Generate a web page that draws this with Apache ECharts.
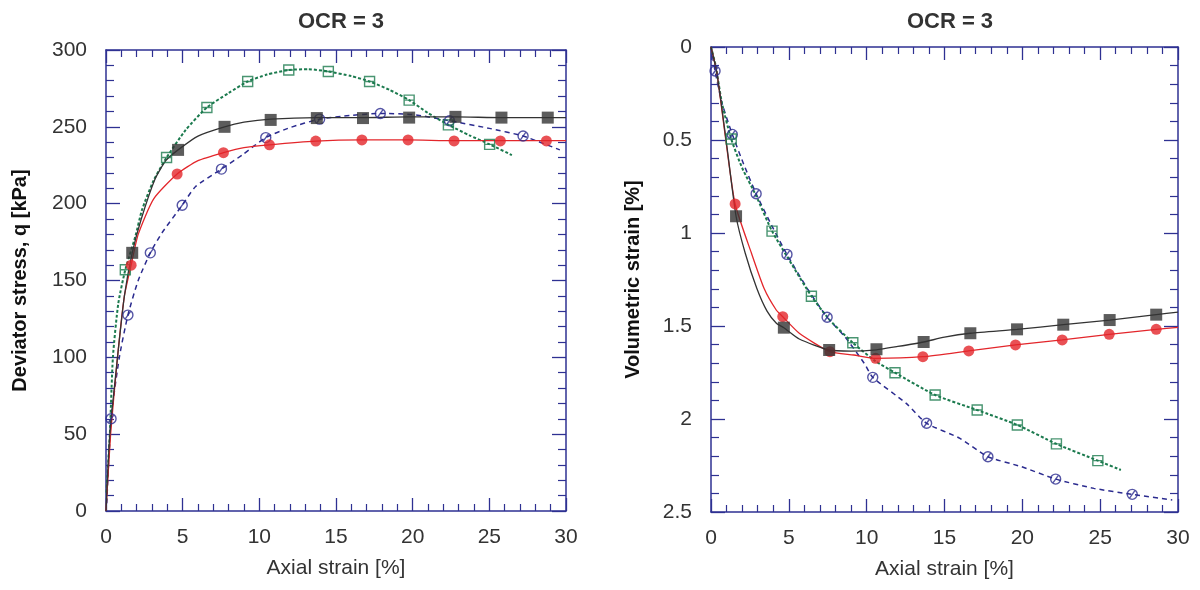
<!DOCTYPE html>
<html><head><meta charset="utf-8">
<script src="https://cdn.jsdelivr.net/npm/echarts@6/dist/echarts.min.js"></script>
<style>html,body{margin:0;padding:0;background:#fff}#c{width:1200px;height:590px}</style>
</head><body><div id="c"></div>
<script>
// ---- Left panel: deviator stress q [kPa] vs axial strain [%] ----
const qBlackLine = [[0,0],[0.25,50],[0.75,100],[1.2,140],[1.71,168],[2.3,190],[3.2,216],[3.9,228],[4.7,235],[6,244],[7.73,250],[9,253],[10.74,255],[13.75,256],[16.76,256],[19.77,256.5],[22.79,256.5],[25.79,256],[30,256]];
const qBlackMarks = [[1.71,168],[4.7,235],[7.73,250],[10.74,254.5],[13.75,255.7],[16.76,255.7],[19.77,256],[22.79,256.5],[25.79,256],[28.81,256]];
const qRedLine = [[0,0],[0.3,50],[0.75,100],[1.2,140],[1.64,160],[2.1,180],[3.1,203],[4.64,219.3],[6,228],[7.66,233.2],[9,236.5],[10.66,238.3],[13.68,240.7],[16.69,241.5],[19.7,241.5],[22.7,241],[30,241]];
const qRedMarks = [[1.64,160],[4.64,219.3],[7.66,233.2],[10.66,238.3],[13.68,240.7],[16.69,241.5],[19.7,241.5],[22.7,240.8],[25.72,240.8],[28.72,240.8]];
const qGreenLine = [[0.03,12],[0.25,50],[0.45,100],[0.8,135],[1.26,157],[1.91,178.5],[2.35,196],[3.1,215],[3.95,230],[5.2,248],[6.58,262.6],[8,272],[9.24,279.5],[10.5,284],[11.92,287],[13.2,287.5],[14.5,286],[16,283],[17.19,279.5],[18.5,274],[19.77,267.4],[21,259],[22.33,251.3],[23.7,244.5],[25.02,238.6],[26.47,231.6]];
const qGreenMarks = [[1.26,157],[3.95,230],[6.58,262.6],[9.24,279.5],[11.92,287],[14.5,286],[17.19,279.5],[19.77,267.4],[22.33,251.3],[25.02,238.6]];
const qBlueLine = [[0.05,5],[0.33,60],[0.87,100],[1.43,127.5],[2.1,150],[2.89,168],[3.65,181],[4.97,199],[5.83,211],[7.53,222.5],[8.87,231.6],[10.42,243],[12,249.5],[13.93,255],[16,257.5],[17.89,258.7],[20,258],[22.4,254],[25,249],[27.2,244],[29.6,235]];
const qBlueMarks = [[0.33,60],[1.43,127.5],[2.89,168],[4.97,199],[7.53,222.5],[10.42,243],[13.93,255],[17.89,258.7],[22.4,254],[27.2,244]];

// ---- Right panel: volumetric strain [%] vs axial strain [%] ----
const vBlackLine = [[0,0],[0.38,0.14],[0.97,0.5],[1.61,0.91],[2.2,1.109],[2.94,1.297],[3.6,1.42],[4.2,1.485],[4.68,1.509],[5.67,1.57],[7.59,1.629],[9,1.635],[10.63,1.628],[12,1.61],[13.66,1.586],[15,1.56],[16.66,1.539],[19.66,1.518],[22.63,1.493],[25.61,1.468],[28.6,1.439],[30,1.425]];
const vBlackMarks = [[1.61,0.91],[4.68,1.509],[7.59,1.629],[10.63,1.625],[13.66,1.586],[16.66,1.539],[19.66,1.518],[22.63,1.493],[25.61,1.468],[28.6,1.439]];
const vRedLine = [[0,0],[0.38,0.14],[0.95,0.5],[1.55,0.844],[2.6,1.109],[3.42,1.3],[4.19,1.414],[4.61,1.45],[5.67,1.539],[7.64,1.638],[9.17,1.656],[10.58,1.674],[13.61,1.665],[16.56,1.634],[19.56,1.602],[22.56,1.575],[25.58,1.545],[28.6,1.518],[30,1.507]];
const vRedMarks = [[1.55,0.844],[4.61,1.45],[7.64,1.638],[10.58,1.674],[13.61,1.665],[16.56,1.634],[19.56,1.602],[22.56,1.575],[25.58,1.545],[28.6,1.518]];
const vGreenLine = [[0,0],[0.3,0.1],[0.7,0.3],[1.3,0.495],[2.0,0.65],[2.9,0.8],[3.92,0.99],[5.2,1.17],[6.45,1.34],[7.63,1.468],[9.11,1.59],[10.58,1.69],[11.82,1.751],[14.4,1.871],[17.1,1.952],[19.68,2.032],[22.19,2.134],[24.85,2.224],[26.33,2.274]];
const vGreenMarks = [[1.3,0.495],[3.92,0.99],[6.45,1.34],[9.11,1.59],[11.82,1.751],[14.4,1.871],[17.1,1.952],[19.68,2.032],[22.19,2.134],[24.85,2.224]];
const vBlueLine = [[0,0],[0.26,0.129],[0.7,0.3],[1.37,0.47],[2.1,0.63],[2.9,0.789],[3.9,0.96],[4.88,1.115],[6.2,1.3],[7.46,1.453],[8.62,1.56],[9.84,1.7],[10.39,1.776],[12.54,1.916],[13.85,2.023],[15.99,2.104],[17.79,2.203],[19.93,2.256],[22.14,2.323],[24.6,2.373],[27.06,2.405],[29.63,2.435]];
const vBlueMarks = [[0.26,0.129],[1.37,0.47],[2.9,0.789],[4.88,1.115],[7.46,1.453],[10.39,1.776],[13.85,2.023],[17.79,2.203],[22.14,2.323],[27.06,2.405]];

const titleText = 'OCR = 3';
const xName = 'Axial strain [%]';
const yNameLeft = 'Deviator stress, q [kPa]';
const yNameRight = 'Volumetric strain [%]';

const AX = '#2e3192';
const C_BLACK = '#333333', C_RED = '#e3262b', C_GREEN = '#1b7a4e', C_BLUE = '#2b2b8f';
const FONT = 'Liberation Sans, Arial, sans-serif';
const SQ_SYM = 'path://M0,0H10V10H0ZM0,5H10';
const CI_SYM = 'path://M10,5A5,5,0,1,1,0,5A5,5,0,1,1,10,5ZM2.5,8.5L7.5,1.5';

function mkX(gi, pos, label) {
  return {
    type: 'value', gridIndex: gi, position: pos, min: 0, max: 30, interval: 5,
    name: label ? xName : '', nameLocation: 'middle', nameGap: 47,
    nameTextStyle: {fontFamily: FONT, fontSize: 21, color: '#333'},
    axisLine: {show: true, onZero: false, lineStyle: {color: AX, width: 1.5}},
    axisTick: {show: true, inside: true, length: 13, lineStyle: {color: AX, width: 1.3}},
    minorTick: {show: true, splitNumber: 5, length: 7, lineStyle: {color: AX, width: 1.2}},
    axisLabel: {show: label, margin: 16, fontFamily: FONT, fontSize: 21, color: '#333'},
    splitLine: {show: false}
  };
}
function mkY(gi, pos, label, opts) {
  return Object.assign({
    type: 'value', gridIndex: gi, position: pos,
    nameLocation: 'middle', nameRotate: 90,
    nameTextStyle: {fontFamily: FONT, fontSize: 20, fontWeight: 'bold', color: '#111'},
    axisLine: {show: true, onZero: false, lineStyle: {color: AX, width: 1.5}},
    axisTick: {show: true, inside: true, length: 14, lineStyle: {color: AX, width: 1.3}},
    minorTick: {show: true, splitNumber: 5, length: 8, lineStyle: {color: AX, width: 1.2}},
    axisLabel: {show: label, margin: 19, fontFamily: FONT, fontSize: 21, color: '#333'},
    splitLine: {show: false}
  }, opts);
}
function line(data, color, xi, type, width) {
  return {type: 'line', data: data, xAxisIndex: xi, yAxisIndex: xi, showSymbol: false, smooth: 0.2,
    lineStyle: {color: color, width: width, type: type}, z: 2, animation: false, silent: true};
}
function marks(data, color, xi, sym, size, filled) {
  return {type: 'scatter', data: data, xAxisIndex: xi, yAxisIndex: xi, symbol: sym, symbolSize: size,
    symbolKeepAspect: true,
    itemStyle: filled ? {color: color} : {color: 'rgba(0,0,0,0)', borderColor: color, borderWidth: 1.4},
    z: filled ? 4 : 3, animation: false, silent: true};
}

const chart = echarts.init(document.getElementById('c'), null, {renderer: 'canvas'});
chart.setOption({
  backgroundColor: '#fff',
  animation: false,
  title: [
    {text: titleText, left: 336, top: 6, textAlign: 'center', textStyle: {fontFamily: FONT, fontSize: 22, fontWeight: 'bold', color: '#333'}},
    {text: titleText, left: 945, top: 6, textAlign: 'center', textStyle: {fontFamily: FONT, fontSize: 22, fontWeight: 'bold', color: '#333'}}
  ],
  grid: [
    {left: 106, top: 50, width: 460, height: 461},
    {left: 711, top: 47, width: 467, height: 465}
  ],
  xAxis: [mkX(0, 'bottom', true), mkX(0, 'top', false), mkX(1, 'bottom', true), mkX(1, 'top', false)],
  yAxis: [
    mkY(0, 'left', true, {min: 0, max: 300, interval: 50, name: yNameLeft, nameGap: 76}),
    mkY(0, 'right', false, {min: 0, max: 300, interval: 50}),
    mkY(1, 'left', true, {min: 0, max: 2.5, interval: 0.5, inverse: true, name: yNameRight, nameGap: 68}),
    mkY(1, 'right', false, {min: 0, max: 2.5, interval: 0.5, inverse: true})
  ],
  series: [
    line(qBlueLine, C_BLUE, 0, [5, 4], 1.5),
    line(qGreenLine, C_GREEN, 0, [3, 2], 2),
    line(qRedLine, C_RED, 0, 'solid', 1.3),
    line(qBlackLine, C_BLACK, 0, 'solid', 1.3),
    marks(qBlueMarks, C_BLUE, 0, CI_SYM, 10, false),
    marks(qGreenMarks, C_GREEN, 0, SQ_SYM, 10, false),
    marks(qRedMarks, C_RED, 0, 'circle', 11, true),
    marks(qBlackMarks, C_BLACK, 0, 'rect', 12, true),
    line(vBlueLine, C_BLUE, 2, [5, 4], 1.5),
    line(vGreenLine, C_GREEN, 2, [3, 2], 2),
    line(vRedLine, C_RED, 2, 'solid', 1.3),
    line(vBlackLine, C_BLACK, 2, 'solid', 1.3),
    marks(vBlueMarks, C_BLUE, 2, CI_SYM, 10, false),
    marks(vGreenMarks, C_GREEN, 2, SQ_SYM, 10, false),
    marks(vRedMarks, C_RED, 2, 'circle', 11, true),
    marks(vBlackMarks, C_BLACK, 2, 'rect', 12, true)
  ]
});
</script></body></html>
